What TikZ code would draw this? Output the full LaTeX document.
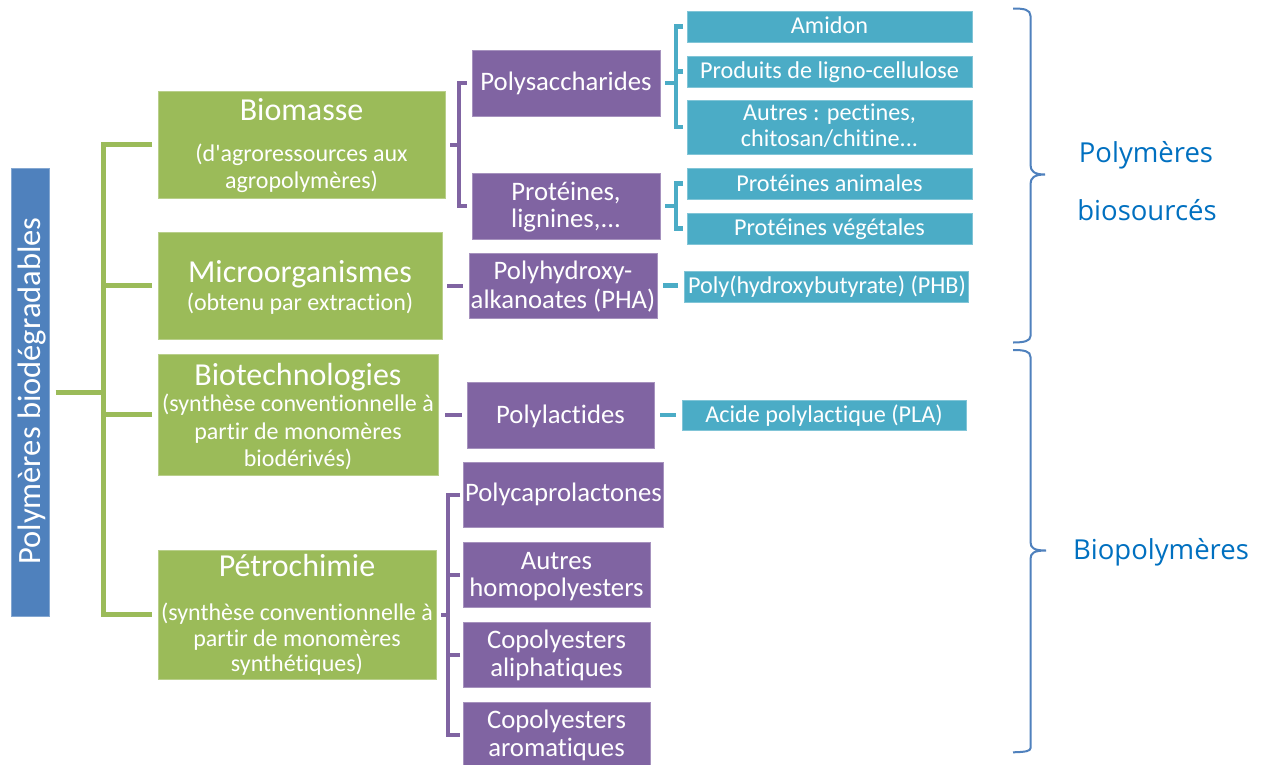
\documentclass[tikz,border=0pt]{standalone}
\usepackage{fontspec}
\newfontfamily\mainf{Carlito}[Ligatures={NoCommon}]
\newfontfamily\lblfont{Open Sans}
\definecolor{cgreen}{HTML}{9BBB59}
\definecolor{cpurple}{HTML}{8064A2}
\definecolor{cteal}{HTML}{4BACC6}
\definecolor{cblue}{HTML}{4F81BD}
\definecolor{ctext}{HTML}{0070C0}
\newcommand{\myfs}[1]{\fontsize{#1}{#1}\selectfont}
\begin{document}
\begin{tikzpicture}[x=1pt,y=-1pt,
  boxbase/.style={inner sep=0pt, outer sep=0pt, line width=1pt},
  gbox/.style={boxbase, fill=cgreen, draw=cgreen!70!white},
  pbox/.style={boxbase, fill=cpurple, draw=cpurple!70!white},
  tbox/.style={boxbase, fill=cteal, draw=cteal!70!white},
  rbox/.style={boxbase, fill=cblue, draw=cblue!70!white},
  ttl/.style={anchor=base, text=white, inner sep=0pt, font=\mainf\myfs{32}},
  sub/.style={anchor=base, text=white, inner sep=0pt, font=\mainf\myfs{24}},
  ptxt/.style={anchor=base, text=white, inner sep=0pt, font=\mainf\myfs{26.7}},
  ttxt/.style={anchor=base, text=white, inner sep=0pt, font=\mainf\myfs{24.2}},
  lbl/.style={anchor=base, text=ctext, inner sep=0pt, font=\lblfont\myfs{27.5}},
  gline/.style={draw=cgreen, line width=5pt},
  pline/.style={draw=cpurple, line width=4pt},
  tline/.style={draw=cteal, line width=4.5pt},
  bracestyle/.style={draw=cblue, line width=2pt}]
\useasboundingbox (0,0) rectangle (1268,764);
\fill[white] (0,0) rectangle (1268,764);

% root
\node[rbox, minimum width=38pt, minimum height=448pt] (root) at (30.5,392.5) {};
\node[anchor=base, rotate=90, text=white, inner sep=0pt, font=\mainf\myfs{32.5}] (roott) at (40.5,391) {Polymères biodégradables};

% green boxes
\node[gbox, minimum width=287pt, minimum height=107pt] (bio) at (301.5,144.5) {};
\node[gbox, minimum width=284pt, minimum height=107pt] (micro) at (300,285.5) {};
\node[gbox, minimum width=280pt, minimum height=121pt] (biotech) at (298,414.5) {};
\node[gbox, minimum width=278pt, minimum height=129pt] (petro) at (297,614.5) {};

\node[ttl] (bio1) at (301.5,120) {Biomasse};
\node[sub] (bio2) at (301.5,161.7) {(d'agroressources aux};
\node[sub] (bio3) at (301.5,188.3) {agropolymères)};
\node[ttl] (mic1) at (300,282.3) {Microorganismes};
\node[sub] (mic2) at (300,310) {(obtenu par extraction)};
\node[ttl] (bt1) at (298,385) {Biotechnologies};
\node[sub] (bt2) at (298,411.7) {(synthèse conventionnelle à};
\node[sub] (bt3) at (298,439) {partir de monomères};
\node[sub] (bt4) at (298,466) {biodérivés)};
\node[ttl] (pe1) at (297,576.7) {Pétrochimie};
\node[sub] (pe2) at (297,620) {(synthèse conventionnelle à};
\node[sub] (pe3) at (297,646) {partir de monomères};
\node[sub] (pe4) at (297,671.7) {synthétiques)};

% purple boxes
\node[pbox, minimum width=188pt, minimum height=66pt] (polysac) at (566,83) {};
\node[pbox, minimum width=188pt, minimum height=66pt] (prot) at (566,206) {};
\node[pbox, minimum width=188pt, minimum height=65pt] (pha) at (563,285.5) {};
\node[pbox, minimum width=187pt, minimum height=66pt] (pla) at (560.5,415) {};
\node[pbox, minimum width=200pt, minimum height=65pt] (pcl) at (563,494.5) {};
\node[pbox, minimum width=187pt, minimum height=65pt] (autres) at (556.5,574.5) {};
\node[pbox, minimum width=187pt, minimum height=65pt] (copal) at (556.5,654.5) {};
\node[pbox, minimum width=187pt, minimum height=65pt] (coparom) at (556.5,734.5) {};

\node[ptxt] (polysact) at (566,90) {Polysaccharides};
\node[ptxt] (prott1) at (566,200) {Protéines,};
\node[ptxt] (prott2) at (566,227.7) {lignines,...};
\node[ptxt] (phat1) at (563,279.3) {Polyhydroxy-};
\node[ptxt] (phat2) at (563,308.3) {alkanoates (PHA)};
\node[ptxt] (plat) at (560.5,423) {Polylactides};
\node[ptxt] (pclt) at (563.5,501.7) {Polycaprolactones};
\node[ptxt] (autt1) at (556.5,569) {Autres};
\node[ptxt] (autt2) at (556.5,596.7) {homopolyesters};
\node[ptxt] (copt1) at (556.5,648) {Copolyesters};
\node[ptxt] (copt2) at (556.5,676) {aliphatiques};
\node[ptxt] (cart1) at (556.5,728) {Copolyesters};
\node[ptxt] (cart2) at (556.5,756.7) {aromatiques};

% teal boxes
\node[tbox, minimum width=285pt, minimum height=31pt] (amidon) at (829.5,26.5) {};
\node[tbox, minimum width=285pt, minimum height=31pt] (produits) at (829.5,71.5) {};
\node[tbox, minimum width=285pt, minimum height=54pt] (autres2) at (829.5,127) {};
\node[tbox, minimum width=285pt, minimum height=31pt] (protan) at (829.5,183.5) {};
\node[tbox, minimum width=285pt, minimum height=31pt] (protveg) at (829.5,228.5) {};
\node[tbox, minimum width=284pt, minimum height=31pt] (phb) at (826,286.5) {};
\node[tbox, minimum width=284pt, minimum height=30pt] (acide) at (824,415) {};

\node[ttxt] (amidont) at (829.5,33.3) {Amidon};
\node[ttxt] (produitst) at (829.5,78.3) {Produits de ligno-cellulose};
\node[ttxt] (autres2t1) at (829.5,120.7) {Autres : pectines,};
\node[ttxt] (autres2t2) at (829.5,146.7) {chitosan/chitine...};
\node[ttxt] (protant) at (829.5,191) {Protéines animales};
\node[ttxt] (protvegt) at (829.5,235) {Protéines végétales};
\node[ttxt] (phbt) at (827,293.3) {Poly(hydroxybutyrate) (PHB)};
\node[ttxt] (acidet) at (824,422.5) {Acide polylactique (PLA)};

% green connectors
\coordinate (gx) at (103.5,0);
\draw[gline] ([xshift=6pt]root.east) -- (root.east -| gx);
\draw[gline] ([xshift=-6pt]bio.west) -| (gx |- petro.west) -- ([xshift=-6pt]petro.west);
\draw[gline] ([xshift=-6pt]micro.west) -- (micro.west -| gx);
\draw[gline] ([xshift=-6pt]biotech.west) -- (biotech.west -| gx);

% purple connectors
\coordinate (px1) at (458.5,0);
\draw[pline] ([xshift=-5.5pt]polysac.west) -| (px1 |- prot.west) -- ([xshift=-5.5pt]prot.west);
\draw[pline] ([xshift=5pt]bio.east) -- (bio.east -| px1);
\draw[pline] ([xshift=5pt]micro.east) -- ([xshift=-6pt]micro.east -| pha.west);
\draw[pline] ([xshift=7pt]biotech.east) -- ([xshift=-5.5pt]biotech.east -| pla.west);
\coordinate (px2) at (448.3,0);
\draw[pline] ([xshift=-3pt]pcl.west) -| (px2 |- coparom.west) -- ([xshift=-3pt]coparom.west);
\draw[pline] ([xshift=-3pt]autres.west) -- (autres.west -| px2);
\draw[pline] ([xshift=-3pt]copal.west) -- (copal.west -| px2);
\draw[pline] ([xshift=5pt]petro.east) -- (petro.east -| px2);

% teal connectors
\coordinate (tx) at (676,0);
\draw[tline] ([xshift=-4pt]amidon.west) -| (tx |- autres2.west) -- ([xshift=-4pt]autres2.west);
\draw[tline] ([xshift=-4pt]produits.west) -- (produits.west -| tx);
\draw[tline] ([xshift=5pt]polysac.east) -- (polysac.east -| tx);
\draw[tline] ([xshift=-4pt]protan.west) -| (tx |- protveg.west) -- ([xshift=-4pt]protveg.west);
\draw[tline] ([xshift=5pt]prot.east) -- (prot.east -| tx);
\draw[tline] ([xshift=6pt]pha.east) -- ([xshift=-6pt]pha.east -| phb.west);
\draw[tline] ([xshift=6pt]pla.east) -- ([xshift=-6pt]pla.east -| acide.west);

% braces
\draw[bracestyle] (1013,8.5) .. controls (1024,8.5) and (1030.5,9.5) .. (1030.5,16)
  -- (1030.5,165) .. controls (1030.5,171) and (1034,174.5) .. (1045,174.5)
  .. controls (1034,174.5) and (1030.5,178) .. (1030.5,184)
  -- (1030.5,336) .. controls (1030.5,341) and (1024,342.5) .. (1013,342.5);
\draw[bracestyle] (1013,350) .. controls (1024,350) and (1030.5,351) .. (1030.5,357)
  -- (1030.5,542) .. controls (1030.5,548) and (1034,550.5) .. (1046,550.5)
  .. controls (1034,550.5) and (1030.5,553) .. (1030.5,559)
  -- (1030.5,748) .. controls (1030.5,751) and (1026,752) .. (1013,752.3);

\node[lbl] (lab1) at (1146,162.7) {Polymères};
\node[lbl] (lab2) at (1147,220) {biosourcés};
\node[lbl] (lab3) at (1161,559.3) {Biopolymères};
\end{tikzpicture}
\end{document}
